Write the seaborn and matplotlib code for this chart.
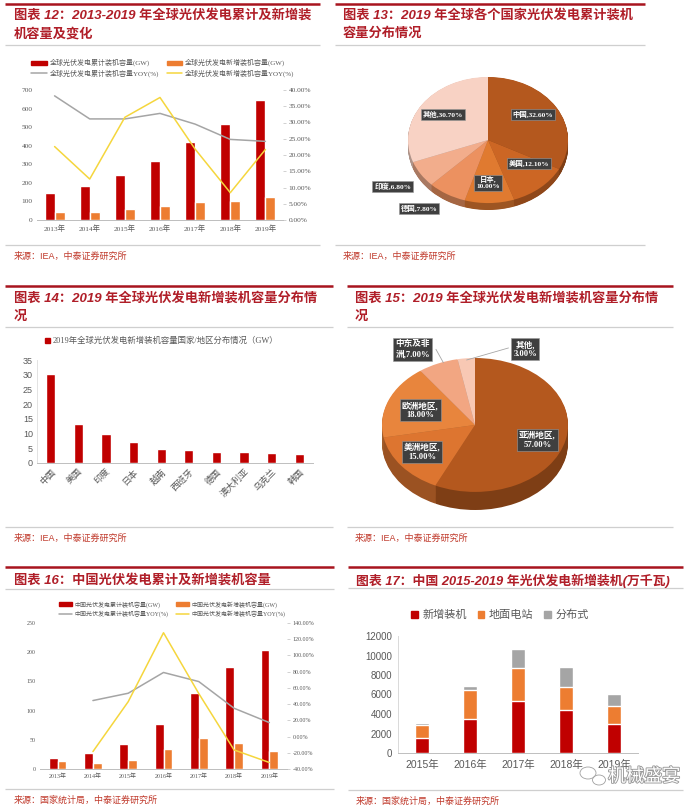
import numpy as np
import pandas as pd
import matplotlib
matplotlib.use('Agg')
import matplotlib.pyplot as plt
import matplotlib.colors as mcolors
import matplotlib.patheffects as pe
from matplotlib.lines import Line2D
from matplotlib.patches import Patch, Ellipse
import seaborn as sns

# ---- data ----
years12 = ['2013年', '2014年', '2015年', '2016年', '2017年', '2018年', '2019年']
cum12 = [143, 185, 242, 320, 418, 517, 646]
new12 = [41, 45, 57, 77, 95, 104, 126]
cum_yoy12 = [38.2, 31.1, 31.1, 32.8, 29.5, 24.8, 24.2]
new_yoy12 = [22.6, 12.6, 31.6, 37.7, 21.8, 8.4, 21.7]
legend12 = ['全球光伏发电累计装机容量(GW)', '全球光伏发电新增装机容量(GW)',
            '全球光伏发电累计装机容量YOY(%)', '全球光伏发电新增装机容量YOY(%)']

countries13 = ['中国', '美国', '日本', '德国', '印度', '其他']
share13 = [32.6, 12.1, 10.0, 7.8, 6.8, 30.7]

countries14 = ['中国', '美国', '印度', '日本', '越南', '西班牙', '德国', '澳大利亚', '乌克兰', '韩国']
new14 = [30.1, 13.3, 9.9, 7.0, 4.8, 4.4, 3.9, 3.7, 3.5, 3.1]
legend14 = '2019年全球光伏发电新增装机容量国家/地区分布情况（GW）'

regions15 = ['亚洲地区', '美洲地区', '欧洲地区', '中东及非洲', '其他']
share15 = [57.0, 15.0, 18.0, 7.0, 3.0]

years16 = ['2013年', '2014年', '2015年', '2016年', '2017年', '2018年', '2019年']
cum16 = [19.4, 28.1, 43.2, 77.4, 130.3, 174.5, 204.3]
new16 = [12.9, 10.6, 15.1, 34.5, 53.1, 44.3, 30.1]
cum_yoy16 = [44.4, 53.4, 79.0, 67.8, 34.9, 17.2]      # 2014-2019
new_yoy16 = [-18.5, 43.0, 128.0, 53.0, -16.5, -32.0]  # 2014-2019
legend16 = ['中国光伏发电累计装机容量(GW)', '中国光伏发电新增装机容量(GW)',
            '中国光伏发电累计装机容量YOY(%)', '中国光伏发电新增装机容量YOY(%)']

years17 = ['2015年', '2016年', '2017年', '2018年', '2019年']
total17 = [1530, 3480, 5290, 4430, 3000]
ground17 = [1300, 3000, 3400, 2390, 1840]
dist17 = [200, 440, 1980, 2050, 1230]
legend17 = ['新增装机', '地面电站', '分布式']

# ---- style ----
C_RED = '#C00000'
C_ORANGE = '#ED7D31'
C_GRAY = '#A5A5A5'
C_YELLOW = '#F5D63D'
TITLE_C = '#B01E28'
REDLINE_C = '#A8141E'
GRAYLINE_C = '#CFCFCF'
TICK_C = '#595959'
SERIF = ['Liberation Serif', 'Noto Sans CJK SC', 'DejaVu Sans']
SANS = ['Liberation Sans', 'Noto Sans CJK SC', 'DejaVu Sans']

sns.set_theme(style='white')
plt.rcParams['font.family'] = SANS
plt.rcParams['axes.unicode_minus'] = False

W, H = 700, 807
fig = plt.figure(figsize=(7, 8.07), dpi=100)


def fx(x):
    return x / W


def fy(y):
    return 1 - y / H


def rect(x0, y0, x1, y1):
    return [x0 / W, 1 - y1 / H, (x1 - x0) / W, (y1 - y0) / H]


def hline(x0, x1, y, color, lw):
    fig.add_artist(Line2D([fx(x0), fx(x1)], [fy(y), fy(y)], transform=fig.transFigure,
                          color=color, lw=lw, solid_capstyle='butt'))


def header(x0, x1, y_red, titles, y_titles, y_gray, y_foot, source, tx, size=9.5):
    hline(x0, x1, y_red, REDLINE_C, 1.8)
    for t, yt in zip(titles, y_titles):
        fig.text(fx(tx), fy(yt), t, family=SANS, weight='bold', style='italic',
                 fontsize=size, color=TITLE_C, va='center', ha='left')
    hline(x0, x1, y_gray, GRAYLINE_C, 0.9)
    hline(x0, x1, y_foot, GRAYLINE_C, 0.9)
    fig.text(fx(tx), fy(y_foot + 11), source, family=SANS, fontsize=6.5,
             color='#C0392B', va='center', ha='left')


def darken(c, f):
    r, g, b = mcolors.to_rgb(c)
    return (r * f, g * f, b * f)


def pie3d(ax, values, colors, depth):
    side = [darken(c, 0.7) for c in colors]
    for k in np.linspace(depth, 0, 18)[:-1]:
        ax.pie(values, colors=side, startangle=90, counterclock=False,
               center=(0, -k), wedgeprops=dict(linewidth=0))
    ax.pie(values, colors=colors, startangle=90, counterclock=False,
           wedgeprops=dict(linewidth=0))
    ax.set_aspect('auto')
    ax.set_xlim(-1, 1)
    ax.set_ylim(-1 - depth, 1)
    ax.axis('off')


def pie_label(ax, x, y, text, size):
    ax.text(x, y, text, ha='center', va='center', fontsize=size, color='white',
            family=SERIF, weight='bold', clip_on=False,
            bbox=dict(boxstyle='square,pad=0.25', fc='#3F3F3F', ec='#9A9A9A', lw=0.4))


def combo_panel(ax, years, cum, new, yoy_x, cum_yoy, new_yoy, left_lim, left_step,
                right_lim, right_step, width, fs):
    df = pd.DataFrame({'year': years * 2, 'value': cum + new,
                       'series': ['cum'] * len(years) + ['new'] * len(years)})
    sns.barplot(data=df, x='year', y='value', hue='series', palette=[C_RED, C_ORANGE],
                width=width, saturation=1, ax=ax, legend=False)
    ax2 = ax.twinx()
    sns.lineplot(x=yoy_x, y=cum_yoy, ax=ax2, color=C_GRAY, lw=1.1)
    sns.lineplot(x=yoy_x, y=new_yoy, ax=ax2, color=C_YELLOW, lw=1.1)
    ax.set_xlim(-0.5, len(years) - 0.5)
    ax.set_ylim(*left_lim)
    ax.set_yticks(np.arange(left_lim[0], left_lim[1] + 1, left_step))
    ax2.set_ylim(*right_lim)
    ax2.set_yticks(np.arange(right_lim[0], right_lim[1] + 1, right_step))
    ax2.set_yticklabels([f'{v:.2f}%' for v in ax2.get_yticks()])
    ax.set_xlabel('')
    ax.set_ylabel('')
    ax2.set_ylabel('')
    for a in (ax, ax2):
        for s in ['top', 'left', 'right']:
            a.spines[s].set_visible(False)
        a.spines['bottom'].set_color('#BFBFBF')
        a.spines['bottom'].set_linewidth(0.7)
        a.set_facecolor('none')
    ax.tick_params(axis='both', length=0, labelsize=fs, labelcolor=TICK_C, pad=3)
    ax2.tick_params(axis='y', length=2, width=0.5, color='#BFBFBF', labelsize=fs,
                    labelcolor=TICK_C, pad=2)
    for lab in ax.get_xticklabels() + ax.get_yticklabels() + ax2.get_yticklabels():
        lab.set_family(SERIF)


def combo_legend(labels, cx, cy, fs):
    handles = [Patch(color=C_RED), Patch(color=C_ORANGE),
               Line2D([], [], color=C_GRAY, lw=1.1), Line2D([], [], color=C_YELLOW, lw=1.1)]
    order = [0, 2, 1, 3]  # legend fills column-wise
    leg = fig.legend([handles[i] for i in order], [labels[i] for i in order], ncol=2,
                     loc='center', bbox_to_anchor=(fx(cx), fy(cy)), frameon=False,
                     handlelength=2.2, handleheight=0.55, columnspacing=1.2,
                     labelspacing=0.45, handletextpad=0.4, prop=dict(family=SERIF, size=fs))
    for t in leg.get_texts():
        t.set_color(TICK_C)


# ---- headers ----
src_iea = '来源：IEA，中泰证券研究所'
src_nbs = '来源：国家统计局，中泰证券研究所'
header(5, 320, 4, ['图表 12：2013-2019 年全球光伏发电累计及新增装', '机容量及变化'],
       [15.5, 34], 45, 245, src_iea, 14)
header(335, 645, 4, ['图表 13：2019 年全球各个国家光伏发电累计装机', '容量分布情况'],
       [15.5, 34], 45, 245, src_iea, 343)
header(5, 333, 286, ['图表 14：2019 年全球光伏发电新增装机容量分布情', '况'],
       [298, 317], 327, 527, src_iea, 14)
header(347, 673, 286, ['图表 15：2019 年全球光伏发电新增装机容量分布情', '况'],
       [298, 317], 327, 527, src_iea, 355)
header(5, 334, 567, ['图表 16：中国光伏发电累计及新增装机容量'],
       [580], 589, 789, src_nbs, 14)
header(348, 683, 567, ['图表 17：中国 2015-2019 年光伏发电新增装机(万千瓦)'],
       [581], 588, 790, src_nbs, 356, size=9.3)

# ---- panel 12 ----
ax12 = fig.add_axes(rect(37, 90, 283, 220))
combo_panel(ax12, years12, cum12, new12, np.arange(len(years12)), cum_yoy12, new_yoy12,
            (0, 700), 100, (0, 40), 5, 0.57, 5.3)
combo_legend(legend12, 163, 68, 5.0)

# ---- panel 13 ----
ax13 = fig.add_axes(rect(408, 77, 568, 210))
colors13 = ['#B4581E', '#CC6624', '#E07A30', '#EC9160', '#F2AD8C', '#F8D2C4']
pie3d(ax13, share13, colors13, 0.11)
pos13 = [(0.56, 0.40), (0.51, -0.37), (0.0, -0.68), (-0.86, -1.08), (-1.19, -0.73), (-0.56, 0.41)]
for name, v, (x, y) in zip(countries13, share13, pos13):
    sep = ',\n' if name == '日本' else ','
    pie_label(ax13, x, y, f'{name}{sep}{v:.2f}%', 5.3)

# ---- panel 14 ----
ax14 = fig.add_axes(rect(37, 360, 313, 463))
sns.barplot(x=countries14, y=new14, color=C_RED, saturation=1, width=0.34, ax=ax14)
ax14.set_ylim(0, 35)
ax14.set_yticks(np.arange(0, 36, 5))
for s in ['top', 'right']:
    ax14.spines[s].set_visible(False)
ax14.spines['left'].set_color('#E3E3E3')
ax14.spines['bottom'].set_color('#BFBFBF')
for s in ['left', 'bottom']:
    ax14.spines[s].set_linewidth(0.7)
ax14.tick_params(axis='both', length=0, labelsize=6.5, labelcolor=TICK_C, pad=3)
plt.setp(ax14.get_xticklabels(), rotation=45, ha='right', rotation_mode='anchor', family=SERIF)
leg = fig.legend([Patch(color=C_RED)], [legend14], loc='center',
                 bbox_to_anchor=(fx(162), fy(341)), frameon=False, handlelength=0.6,
                 handleheight=0.6, handletextpad=0.3, prop=dict(family=SERIF, size=6))
for t in leg.get_texts():
    t.set_color(TICK_C)

# ---- panel 15 ----
ax15 = fig.add_axes(rect(382, 358, 568, 510))
colors15 = ['#B4581E', '#DD7530', '#E8853D', '#F2A682', '#F8C8B4']
pie3d(ax15, share15, colors15, 0.27)
labels15 = ['亚洲地区,\n57.00%', '美洲地区,\n15.00%', '欧洲地区,\n18.00%',
            '中东及非\n洲,7.00%', '其他,\n3.00%']
pos15 = [(0.67, -0.22), (-0.57, -0.40), (-0.59, 0.22), (-0.67, 1.13), (0.54, 1.13)]
for txt, (x, y) in zip(labels15, pos15):
    pie_label(ax15, x, y, txt, 6.2)
ax15.plot([-0.42, -0.34], [1.13, 0.93], color='#A6A6A6', lw=0.6, clip_on=False)
ax15.plot([0.36, -0.09], [1.15, 0.97], color='#A6A6A6', lw=0.6, clip_on=False)

# ---- panel 16 ----
ax16 = fig.add_axes(rect(40, 623, 287, 769))
combo_panel(ax16, years16, cum16, new16, np.arange(1, len(years16)), cum_yoy16, new_yoy16,
            (0, 250), 50, (-40, 140), 20, 0.5, 4.3)
combo_legend(legend16, 172, 609, 4.3)

# ---- panel 17 ----
ax17 = fig.add_axes(rect(398, 636, 638, 753))
top_ground = np.add(total17, ground17)
top_dist = top_ground + np.array(dist17)
sns.barplot(x=years17, y=top_dist, color=C_GRAY, saturation=1, width=0.31, ax=ax17)
sns.barplot(x=years17, y=top_ground, color=C_ORANGE, saturation=1, width=0.31, ax=ax17)
sns.barplot(x=years17, y=total17, color=C_RED, saturation=1, width=0.31, ax=ax17)
ax17.set_ylim(0, 12000)
ax17.set_yticks(np.arange(0, 12001, 2000))
for s in ['top', 'right']:
    ax17.spines[s].set_visible(False)
ax17.spines['left'].set_color('#D9D9D9')
ax17.spines['bottom'].set_color('#BFBFBF')
for s in ['left', 'bottom']:
    ax17.spines[s].set_linewidth(0.7)
ax17.tick_params(axis='y', length=0, labelsize=7, labelcolor=TICK_C, pad=4)
ax17.tick_params(axis='x', length=0, labelsize=7.5, labelcolor=TICK_C, pad=5)
leg = fig.legend([Patch(color=C_RED), Patch(color=C_ORANGE), Patch(color=C_GRAY)], legend17,
                 ncol=3, loc='center', bbox_to_anchor=(fx(500), fy(615)), frameon=False,
                 handlelength=0.6, handleheight=0.6, handletextpad=0.4, columnspacing=1.0,
                 prop=dict(family=SANS, size=8))
for t in leg.get_texts():
    t.set_color(TICK_C)

# watermark
for (ex, ey, ew, eh) in [(588, 773, 16, 12), (599, 780, 13, 10)]:
    fig.add_artist(Ellipse((fx(ex), fy(ey)), ew / W, eh / H, transform=fig.transFigure,
                           fill=False, ec='#A0A0A0', lw=0.6))
fig.text(fx(644), fy(777), '机械盛宴', family=SANS, fontsize=13, color='white',
         ha='center', va='center',
         path_effects=[pe.withStroke(linewidth=1.3, foreground='#9A9A9A')])

fig.savefig('out.png', dpi=100, facecolor='white')
